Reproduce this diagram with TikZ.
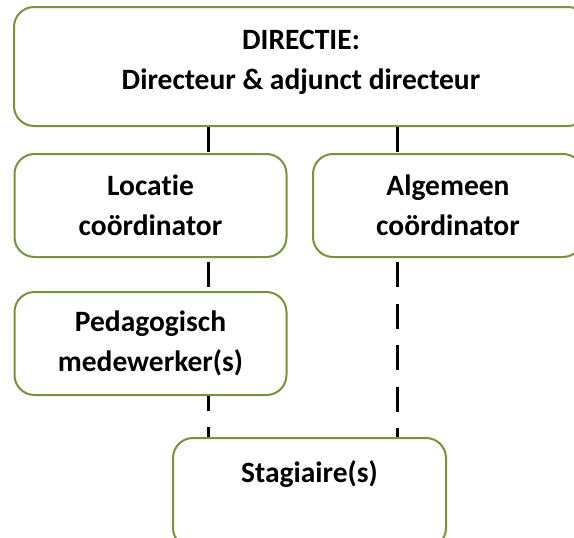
\documentclass[tikz,border=0pt]{standalone}
\usepackage{fontspec}
\setmainfont[Ligatures={NoCommon}]{Carlito}
\definecolor{boxgreen}{RGB}{119,147,60}
\begin{document}
\begin{tikzpicture}[x=1pt,y=-1pt,
  box/.style={draw=boxgreen, line width=2pt, rounded corners=20pt, fill=white,
    align=center, inner sep=0pt, font=\fontsize{29.5}{40}\selectfont\bfseries},
  conn/.style={draw=black, line width=2.2pt}]
\useasboundingbox (0,0) rectangle (574,538);
\clip (0,0) rectangle (574,538);
\node[box, minimum width=574pt, minimum height=119pt, text depth=14pt] (top) at (301,66.5)
  {DIRECTIE:\\Directeur \& adjunct directeur};
\node[box, minimum width=272pt, minimum height=103pt] (loc) at (150.5,205.5)
  {Locatie\\coördinator};
\node[box, minimum width=270pt, minimum height=103pt] (alg) at (448,205.5)
  {Algemeen\\coördinator};
\node[box, minimum width=272pt, minimum height=103pt] (ped) at (150.5,343.5)
  {Pedagogisch\\medewerker(s)};
\node[box, minimum width=273pt, minimum height=110pt, text height=20pt, text depth=42pt] (stag) at (309.5,493)
  {Stagiaire(s)};
\coordinate (cl) at (208.5,0);
\coordinate (cr) at (397.5,0);
\draw[conn, dash pattern=on 25pt off 16.5pt] (top.south -| cl) -- (loc.north -| cl);
\draw[conn, dash pattern=on 25pt off 16.5pt] (top.south -| cr) -- (alg.north -| cr);
\draw[conn, dash pattern=on 25pt off 16.5pt, dash phase=37.5pt] (loc.south -| cl) -- (ped.north -| cl);
\draw[conn, dash pattern=on 25pt off 16.5pt, dash phase=37.5pt] (alg.south -| cr) -- (stag.north -| cr);
\draw[conn, dash pattern=on 25pt off 16.5pt, dash phase=10.5pt] (ped.south -| cl) -- (stag.north -| cl);
\end{tikzpicture}
\end{document}
